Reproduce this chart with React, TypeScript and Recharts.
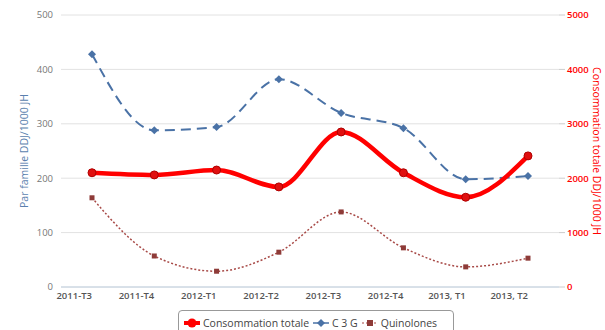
import { LineChart, Line, XAxis, YAxis, CartesianGrid, Label } from 'recharts';

const categories = ['2011-T3', '2011-T4', '2012-T1', '2012-T2', '2012-T3', '2012-T4', '2013, T1', '2013, T2'];
const totalConso = [2100, 2060, 2150, 1840, 2850, 2100, 1650, 2410];
const c3g = [428, 288, 294, 382, 320, 292, 198, 204];
const quinolones = [164, 57, 29, 64, 138, 72, 37, 53];

const leftTicks = [0, 100, 200, 300, 400, 500];
const rightTicks = [0, 1000, 2000, 3000, 4000, 5000];

const RED = '#ff0000';
const BLUE = '#4a72a6';
const BROWN = '#a84a47';
const FONT = '"Open Sans", sans-serif';

const data = categories.map((cat, i) => ({
  cat,
  total: totalConso[i],
  c3g: c3g[i],
  quino: quinolones[i],
}));

const XTick = (props: any) => {
  const { x, payload } = props;
  return (
    <text x={x} y={299} textAnchor="end" fontSize={9.5} fontWeight={600} fill="#555" fontFamily={FONT}>
      {payload.value}
    </text>
  );
};

const Diamond = (props: any) => {
  const { cx, cy, index } = props;
  if (cx == null || cy == null) return <g key={`d${index}`} />;
  return <path key={`d${index}`} d={`M${cx},${cy - 4} L${cx + 4},${cy} L${cx},${cy + 4} L${cx - 4},${cy} Z`} fill={BLUE} />;
};

const Square = (props: any) => {
  const { cx, cy, index } = props;
  if (cx == null || cy == null) return <g key={`s${index}`} />;
  return <rect key={`s${index}`} x={cx - 2.5} y={cy - 2.5} width={5} height={5} fill="#8e3b38" />;
};

const Circle = (props: any) => {
  const { cx, cy, index } = props;
  if (cx == null || cy == null) return <g key={`c${index}`} />;
  return <circle key={`c${index}`} cx={cx} cy={cy} r={4} fill="#e01010" stroke="#b00000" strokeWidth={1} />;
};

const LeftTitle = (props: any) => {
  const { viewBox } = props;
  const cy = viewBox.y + viewBox.height / 2;
  return (
    <text x={24} y={cy} transform={`rotate(-90, 24, ${cy})`} textAnchor="middle" dominantBaseline="central"
      fontSize={10.5} fill="#5a7fae" fontFamily={FONT}>
      Par famille DDJ/1000 JH
    </text>
  );
};

const RightTitle = (props: any) => {
  const { viewBox } = props;
  const cy = viewBox.y + viewBox.height / 2;
  return (
    <text x={597} y={cy} transform={`rotate(90, 597, ${cy})`} textAnchor="middle" dominantBaseline="central"
      fontSize={10.5} fill={RED} fontFamily={FONT}>
      Consommation totale DDJ/1000 JH
    </text>
  );
};

export default function App() {
  return (
    <div style={{ position: 'absolute', left: 0, top: 0, width: 605, height: 330, background: '#fff', overflow: 'hidden' }}>
      <LineChart width={605} height={330} data={data} margin={{ top: 15, right: 0, bottom: 0, left: 0 }}>
        <CartesianGrid vertical={false} stroke="#e2e2e2" yAxisId="left" />
        <XAxis
          dataKey="cat"
          height={43}
          padding={{ left: 31, right: 31 }}
          tick={<XTick />}
          tickLine={false}
          axisLine={{ stroke: '#c0d0e0' }}
          interval={0}
        />
        <YAxis
          yAxisId="left"
          domain={[0, 500]}
          ticks={leftTicks}
          width={61}
          axisLine={false}
          tickLine={false}
          tick={{ fontSize: 9.5, fill: '#777', fontFamily: FONT }}
        >
          <Label content={<LeftTitle />} />
        </YAxis>
        <YAxis
          yAxisId="right"
          orientation="right"
          domain={[0, 5000]}
          ticks={rightTicks}
          width={46}
          axisLine={false}
          tickLine={{ stroke: '#ccc' }}
          tickSize={6}
          tick={{ fontSize: 9.5, fill: RED, fontWeight: 600, fontFamily: FONT, textAnchor: 'start' }}
        >
          <Label content={<RightTitle />} />
        </YAxis>
        <Line
          yAxisId="left"
          type="monotone"
          dataKey="quino"
          stroke={BROWN}
          strokeWidth={1.5}
          strokeDasharray="2 2"
          dot={Square}
          isAnimationActive={false}
        />
        <Line
          yAxisId="left"
          type="monotone"
          dataKey="c3g"
          stroke={BLUE}
          strokeWidth={2}
          strokeDasharray="10 6"
          dot={Diamond}
          isAnimationActive={false}
        />
        <Line
          yAxisId="right"
          type="monotone"
          dataKey="total"
          stroke={RED}
          strokeWidth={4.5}
          dot={Circle}
          isAnimationActive={false}
        />
      </LineChart>
      <div
        style={{
          position: 'absolute', left: 178, top: 310, width: 276, height: 26, boxSizing: 'border-box',
          border: '1px solid #999', borderRadius: 4, background: '#fff', display: 'flex', alignItems: 'center',
          paddingLeft: 5, fontFamily: FONT, fontSize: 10.5, color: '#444', whiteSpace: 'nowrap',
        }}
      >
        <svg width={16} height={10} style={{ marginRight: 3 }}>
          <line x1={0} y1={5} x2={16} y2={5} stroke={RED} strokeWidth={4} />
          <circle cx={8} cy={5} r={4.5} fill={RED} />
        </svg>
        <span>Consommation totale</span>
        <svg width={16} height={10} style={{ marginLeft: 4, marginRight: 3 }}>
          <line x1={0} y1={5} x2={16} y2={5} stroke={BLUE} strokeWidth={1.5} />
          <path d="M8,1 L12,5 L8,9 L4,5 Z" fill={BLUE} />
        </svg>
        <span>C 3 G</span>
        <svg width={16} height={10} style={{ marginLeft: 4, marginRight: 3 }}>
          <line x1={0} y1={5} x2={16} y2={5} stroke={BROWN} strokeWidth={1} strokeDasharray="2 2" />
          <rect x={5} y={2} width={6} height={6} fill="#8e3b38" />
        </svg>
        <span>Quinolones</span>
      </div>
    </div>
  );
}
